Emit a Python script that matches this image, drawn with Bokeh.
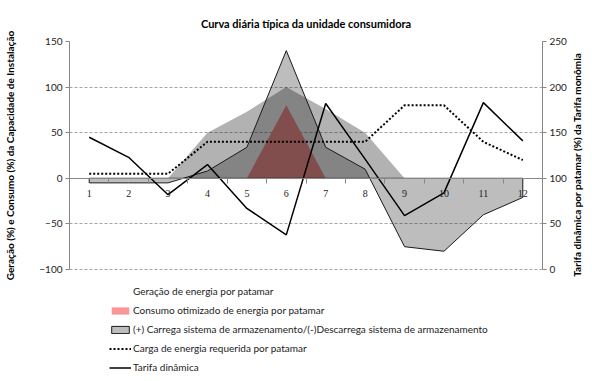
import math
from bokeh.plotting import figure
from bokeh.models import (Range1d, LinearAxis, FixedTicker, Legend, LegendItem,
                          ColumnDataSource)
from bokeh.embed import file_html
from bokeh.resources import INLINE

# ---- data ----
title_text = "Curva diária típica da unidade consumidora"
left_label = "Geração (%) e Consumo (%) da Capacidade de Instalação"
right_label = "Tarifa dinâmica por patamar (%) da Tarifa monômia"

patamares = [1, 2, 3, 4, 5, 6, 7, 8, 9, 10, 11, 12]
x_labels = ["1", "2", "3", "4", "5", "6", "7", "8", "9", "10", "11", "12"]
geracao = [0, 0, 0, 50, 73, 100, 76, 50, 0, 0, 0, 0]
consumo_otimizado = [0, 0, 0, 0, 0, 80, 0, 0, 0, 0, 0, 0]
armazenamento = [-5, -5, -5, 8, 34, 140, 34, 10, -75, -80, -40, -21]
carga = [5, 5, 5, 40, 40, 40, 40, 40, 80, 80, 40, 20]
tarifa = [145, 123, 82, 115, 67, 38, 182, 121, 59, 84, 183, 141]

left_ticks = [-100, -50, 0, 50, 100, 150]
right_ticks = [0, 50, 100, 150, 200, 250]

legend_labels = [
    "Geração de energia por patamar",
    "Consumo otimizado de energia por patamar",
    "(+) Carrega sistema de armazenamento/(-)Descarrega sistema de armazenamento",
    "Carga de energia requerida por patamar",
    "Tarifa dinâmica",
]

FONT = "Lato"
AXIS_GREY = "#868686"

# layout (pixels)
FRAME_TOP = 41
BOTTOM_BORDER = 8
FIG_H = 381
PX_PER_UNIT = 228 / 250.0          # 250 left-axis units span 228 px
frame_h = FIG_H - FRAME_TOP - BOTTOM_BORDER
span_units = frame_h / PX_PER_UNIT
left_min = left_ticks[-1] - span_units
offset = right_ticks[0] - left_ticks[0]   # right = left + 100
right_min = left_min + offset

src = ColumnDataSource(dict(x=patamares, ger=geracao, con=consumo_otimizado,
                            arm=armazenamento, car=carga, tar=tarifa,
                            zero=[0] * len(patamares), lab=x_labels))

p = figure(width=592, height=FIG_H, x_range=Range1d(0.5, 12.5),
           y_range=Range1d(left_min, left_ticks[-1]),
           output_backend="svg", toolbar_location=None,
           min_border_left=63, min_border_right=50, min_border_top=FRAME_TOP,
           min_border_bottom=BOTTOM_BORDER, x_axis_location=None,
           y_axis_location=None)
p.extra_y_ranges = {"tar": Range1d(right_min, right_ticks[-1])}
p.outline_line_color = None
p.background_fill_color = "white"
p.border_fill_color = "white"

# title
p.title.text = title_text
p.title.align = "center"
p.title.text_font = FONT
p.title.text_font_size = "11px"
p.title.text_font_style = "bold"
p.title.text_color = "#000000"
p.title.standoff = 24

# grid
p.xgrid.visible = False
p.ygrid.ticker = FixedTicker(ticks=left_ticks)
p.ygrid.grid_line_color = "#A6A6A6"
p.ygrid.grid_line_dash = "3 2"

# ---- glyphs ----
# pink consumption area first: the translucent grey areas above darken it
r_con = p.varea(x="x", y1="zero", y2="con", source=src,
                fill_color="#FA9696", fill_alpha=1.0)
r_ger = p.varea(x="x", y1="zero", y2="ger", source=src,
                fill_color="black", fill_alpha=0.30)
arm_x = [patamares[0]] + patamares + [patamares[-1]]
arm_y = [0] + armazenamento + [0]
r_arm = p.patch(arm_x, arm_y, fill_color="black", fill_alpha=0.26,
                line_color="#1a1a1a", line_width=1)
r_car = p.line(x="x", y="car", source=src, line_color="black",
               line_width=2, line_dash="2 2")
r_tar = p.line(x="x", y="tar", source=src, y_range_name="tar",
               line_color="black", line_width=1.5)

# category labels under the zero line
r_lab = p.text(x="x", y="zero", text="lab", source=src, y_offset=15,
               text_align="center", text_baseline="middle",
               text_font_size="10px", text_color="#222222")
r_lab.glyph.text_font = FONT

# legend-only (invisible) swatch for the generation series
r_leg_ger = p.varea(x=[], y1=[], y2=[], fill_alpha=0)

# ---- axes ----
minor = [v - 0.5 for v in patamares] + [patamares[-1] + 0.5]
xaxis = LinearAxis(ticker=FixedTicker(ticks=patamares, minor_ticks=minor),
                   fixed_location=0)
xaxis.major_label_overrides = {v: "" for v in patamares}
xaxis.major_label_text_font_size = "1px"
xaxis.major_label_standoff = 0
xaxis.axis_line_color = AXIS_GREY
xaxis.major_tick_line_color = None
xaxis.major_tick_in = 0
xaxis.major_tick_out = 0
xaxis.minor_tick_line_color = AXIS_GREY
xaxis.minor_tick_in = 0
xaxis.minor_tick_out = 5
p.add_layout(xaxis, "below")

laxis = LinearAxis(ticker=FixedTicker(ticks=left_ticks),
                   bounds=(left_ticks[0], left_ticks[-1]))
raxis = LinearAxis(ticker=FixedTicker(ticks=right_ticks), y_range_name="tar",
                   bounds=(right_ticks[0], right_ticks[-1]))
for ax in (laxis, raxis):
    ax.axis_line_color = AXIS_GREY
    ax.major_tick_line_color = AXIS_GREY
    ax.major_tick_in = 0
    ax.major_tick_out = 4
    ax.minor_tick_line_color = None
    ax.major_label_text_font = FONT
    ax.major_label_text_font_size = "10px"
    ax.major_label_text_color = "#222222"
    ax.major_label_standoff = 3
p.add_layout(laxis, "left")
p.add_layout(raxis, "right")

# axis titles, placed along the -100..150 (left) / 0..250 (right) span
left_mid = (left_ticks[0] + left_ticks[-1]) / 2
right_start = right_ticks[0] - 8
ltitle = LinearAxis(ticker=FixedTicker(ticks=[left_mid]),
                    major_label_overrides={left_mid: left_label},
                    major_label_orientation="parallel")
rtitle = LinearAxis(ticker=FixedTicker(ticks=[right_start]), y_range_name="tar",
                    major_label_overrides={right_start: right_label},
                    major_label_orientation=math.pi / 2)
for ax in (ltitle, rtitle):
    ax.axis_line_color = None
    ax.major_tick_line_color = None
    ax.minor_tick_line_color = None
    ax.major_tick_in = 0
    ax.major_tick_out = 0
    ax.major_label_text_font = FONT
    ax.major_label_text_font_size = "10px"
    ax.major_label_text_font_style = "bold"
    ax.major_label_text_color = "#000000"
ltitle.major_label_standoff = 21
rtitle.major_label_standoff = 8
p.add_layout(ltitle, "left")
p.add_layout(rtitle, "right")

# ---- legend ----
legend = Legend(items=[
    LegendItem(label=legend_labels[0], renderers=[r_leg_ger]),
    LegendItem(label=legend_labels[1], renderers=[r_con]),
    LegendItem(label=legend_labels[2], renderers=[r_arm]),
    LegendItem(label=legend_labels[3], renderers=[r_car]),
    LegendItem(label=legend_labels[4], renderers=[r_tar]),
], location=(40, 0))
legend.border_line_color = None
legend.background_fill_alpha = 0
legend.label_text_font = FONT
legend.label_text_font_size = "10px"
legend.label_text_color = "#222222"
legend.glyph_width = 22
legend.glyph_height = 9
legend.label_height = 12
legend.spacing = 7
legend.padding = 0
legend.margin = 0
legend.label_standoff = 2
p.add_layout(legend, "center")

open("out.html", "w").write(file_html(p, INLINE))
